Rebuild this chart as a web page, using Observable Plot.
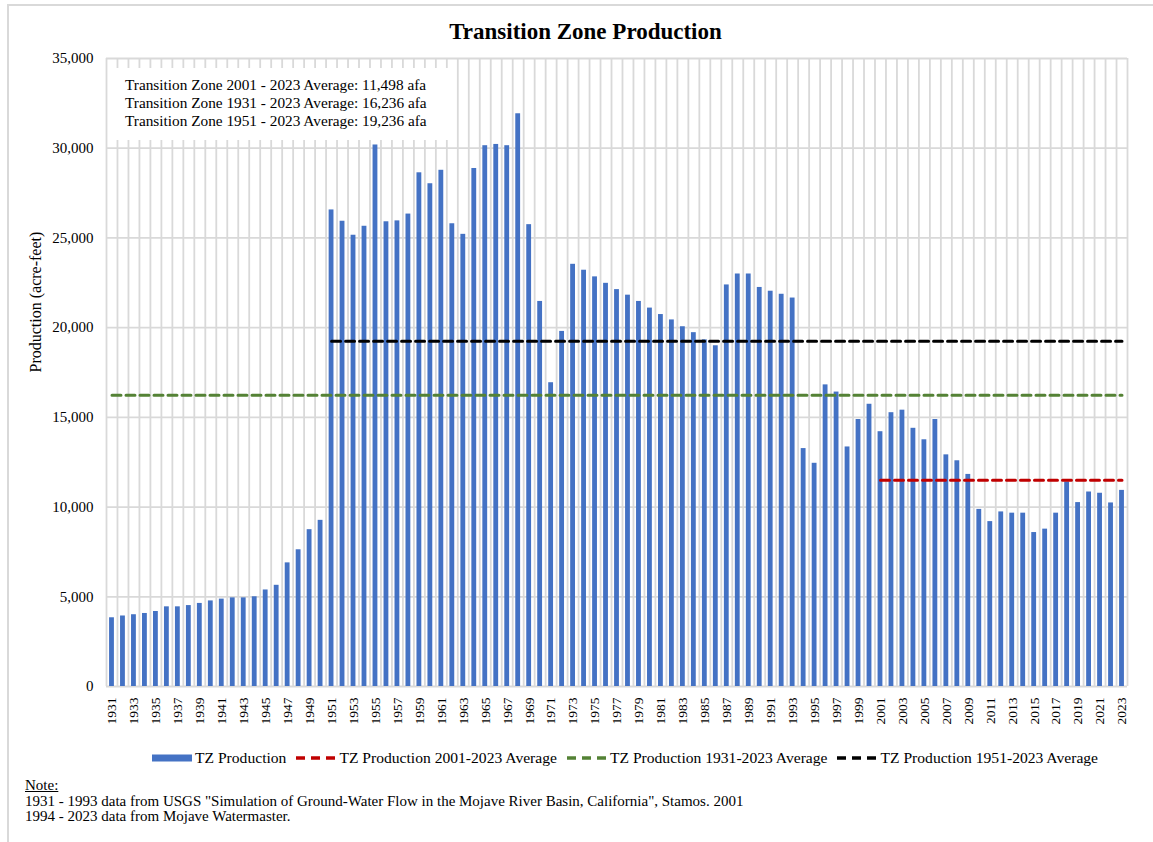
<!DOCTYPE html>
<html>
<head>
<meta charset="utf-8">
<script src="https://cdn.jsdelivr.net/npm/d3@7"></script>
<script src="https://cdn.jsdelivr.net/npm/@observablehq/plot@0.6"></script>
<style>
  html, body { margin: 0; padding: 0; background: #fff; }
  #wrap { position: relative; width: 1153px; height: 842px; overflow: hidden;
          font-family: "Liberation Serif", "Times New Roman", serif; color: #000; }
  #frame { position: absolute; left: 7px; top: 4px; right: -10px; bottom: -10px;
           border-top: 2px solid #d9d9d9; border-left: 2px solid #d9d9d9; pointer-events: none; }
  #title { height: 48px; box-sizing: border-box; padding-top: 18px; padding-left: 18px;
           line-height: 28px; font-size: 23px; font-weight: bold; text-align: center; }
  #chart svg { display: block; }
  #note-box { position: absolute; left: 112px; top: 68px; width: 340px; height: 72px;
              background: #fff; box-sizing: border-box; padding-left: 13px; padding-top: 8px;
              font-size: 15.3px; line-height: 18px; white-space: nowrap; }
  #legend { height: 40px; display: flex; align-items: center; padding-left: 152px;
            font-size: 15.6px; white-space: nowrap; }
  #legend .item { display: flex; align-items: center; margin-right: 10px; }
  #legend .sw { margin-right: 3px; display: block; }
  #notes { padding-left: 25px; font-size: 15px; line-height: 15.5px; }
  #notes u { text-decoration: underline; }
</style>
</head>
<body>
<div id="wrap">
  <div id="frame"></div>
  <div id="title"></div>
  <div id="chart"></div>
  <div id="note-box"></div>
  <div id="legend"></div>
  <div id="notes"></div>
</div>
<script>
// ---- data ----
const titleText = "Transition Zone Production";
const yLabel = "Production (acre-feet)";
const years = d3.range(1931, 2024);
const production = [
  3830, 3930, 4000, 4070, 4180, 4440, 4440, 4510, 4630, 4770,      // 1931-1940
  4870, 4940, 4940, 5000, 5380, 5640, 6890, 7620, 8740, 9260,      // 1941-1950
  26560, 25930, 25150, 25650, 30180, 25900, 25950, 26330, 28630, 28020, // 1951-1960
  28770, 25790, 25200, 28870, 30140, 30210, 30140, 31920, 25740, 21460, // 1961-1970
  16930, 19790, 23530, 23200, 22830, 22470, 22120, 21810, 21460, 21090, // 1971-1980
  20730, 20430, 20050, 19720, 19320, 18990, 22380, 22990, 22990, 22240, // 1981-1990
  22030, 21860, 21650, 13260, 12440, 16810, 16410, 13350, 14880, 15730, // 1991-2000
  14200, 15260, 15400, 14390, 13750, 14880, 12910, 12580, 11820, 9870,  // 2001-2010
  9190, 9730, 9660, 9660, 8580, 8770, 9660, 11400, 10250, 10840,        // 2011-2020
  10770, 10230, 10930                                                   // 2021-2023
];
const averages = [
  {key: "2001", start: 2001, value: 11498, boxLabel: "Transition Zone 2001 - 2023 Average: 11,498 afa", legend: "TZ Production 2001-2023 Average", color: "#C00000"},
  {key: "1931", start: 1931, value: 16236, boxLabel: "Transition Zone 1931 - 2023 Average: 16,236 afa", legend: "TZ Production 1931-2023 Average", color: "#548235"},
  {key: "1951", start: 1951, value: 19236, boxLabel: "Transition Zone 1951 - 2023 Average: 19,236 afa", legend: "TZ Production 1951-2023 Average", color: "#000000"}
];
const barLegend = "TZ Production";
const yTicks = [0, 5000, 10000, 15000, 20000, 25000, 30000, 35000];
const xTickYears = years.filter(y => y % 2 === 1);
const noteLines = [
  '1931 - 1993 data from USGS "Simulation of Ground-Water Flow in the Mojave River Basin, California", Stamos. 2001',
  '1994 - 2023 data from Mojave Watermaster.'
];

// ---- derived tables ----
const bars = years.map((year, i) => ({year, value: production[i]}));
const avgLines = averages.map(a => years.filter(y => y >= a.start).map(year => ({year, v: a.value})));

// ---- layout ----
const W = 1153, H = 690, ML = 106, MR = 26, MT = 10, MB = 52;
const PI = 0.56, PO = 0.28;
const step = (W - ML - MR) / (years.length - PI + 2 * PO);
const grid = "#d9d9d9";
const dash = "9,5";

document.getElementById("title").textContent = titleText;

const chart = Plot.plot({
  width: W, height: H,
  marginLeft: ML, marginRight: MR, marginTop: MT, marginBottom: MB,
  style: {fontFamily: '"Liberation Serif", "Times New Roman", serif', fontSize: "15px", color: "#000", background: "transparent", overflow: "visible"},
  x: {type: "band", domain: years, paddingInner: PI, paddingOuter: PO, round: false, axis: null},
  y: {domain: [0, 35000], axis: null},
  marks: [
    Plot.ruleY(yTicks, {y: d => d, stroke: grid, strokeWidth: 1.8}),
    Plot.ruleX(years, {x: d => d, dx: step / 2, stroke: grid, strokeWidth: 1.8}),
    Plot.ruleX(years.slice(0, 1), {x: d => d, dx: -step / 2, stroke: grid, strokeWidth: 1.8}),
    Plot.barY(bars, {x: "year", y: "value", fill: "#4472C4"}),
    ...averages.map((a, i) => Plot.lineY(avgLines[i], {x: "year", y: "v", stroke: a.color, strokeWidth: 3, strokeDasharray: dash})),
    Plot.axisY({ticks: yTicks, tickFormat: d3.format(","), tickSize: 0, tickPadding: 13, label: null, fontSize: 15}),
    Plot.axisX({ticks: xTickYears, tickFormat: d => String(d), tickSize: 0, tickPadding: 11, tickRotate: -90, label: null, fontSize: 13.5}),
    Plot.text([yLabel], {text: d => d, frameAnchor: "left", dx: -71, rotate: -90, fontSize: 16})
  ]
});
document.getElementById("chart").appendChild(chart);

// annotation box
const box = document.getElementById("note-box");
averages.forEach(a => {
  const d = document.createElement("div");
  d.textContent = a.boxLabel;
  box.appendChild(d);
});

// legend
const legend = document.getElementById("legend");
function addItem(swatchSvg, label) {
  const it = document.createElement("div");
  it.className = "item";
  it.innerHTML = swatchSvg;
  const t = document.createElement("span");
  t.textContent = label;
  it.appendChild(t);
  legend.appendChild(it);
}
addItem('<svg class="sw" width="40" height="8"><rect x="0" y="0.5" width="40" height="7" fill="#4472C4"/></svg>', barLegend);
averages.forEach(a => {
  addItem(`<svg class="sw" width="40" height="6"><line x1="0" x2="40" y1="3" y2="3" stroke="${a.color}" stroke-width="3.5" stroke-dasharray="9,6"/></svg>`, a.legend);
});

// notes
const notes = document.getElementById("notes");
const n0 = document.createElement("div");
n0.innerHTML = "<u>Note:</u>";
notes.appendChild(n0);
noteLines.forEach(l => { const d = document.createElement("div"); d.textContent = l; notes.appendChild(d); });
</script>
</body>
</html>
